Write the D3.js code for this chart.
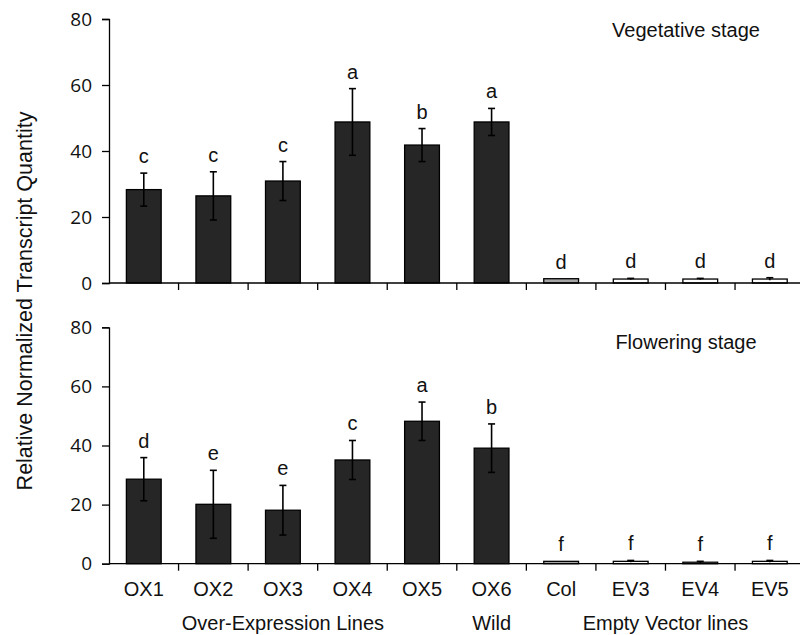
<!DOCTYPE html>
<html>
<head>
<meta charset="utf-8">
<script src="https://cdn.jsdelivr.net/npm/d3@7"></script>
<style>
  body { margin: 0; background: #fff; }
  svg { font-family: Arial, "Liberation Sans", sans-serif; }
</style>
</head>
<body>
<svg id="chart" width="800" height="635"></svg>
<script>
const categories = ['OX1', 'OX2', 'OX3', 'OX4', 'OX5', 'OX6', 'Col', 'EV3', 'EV4', 'EV5'];
const barKind = ['ox', 'ox', 'ox', 'ox', 'ox', 'ox', 'col', 'ev', 'ev', 'ev'];

const vegMean = [28.3, 26.4, 30.9, 48.8, 41.8, 48.8, 1.3, 1.2, 1.2, 1.2];
const vegErr = [5.0, 7.3, 5.9, 10.1, 5.0, 4.1, 0, 0.2, 0.2, 0.4];
const vegLetters = ['c', 'c', 'c', 'a', 'b', 'a', 'd', 'd', 'd', 'd'];

const flowMean = [28.6, 20.1, 18.1, 35.1, 48.2, 39.1, 0.8, 0.8, 0.5, 0.8];
const flowErr = [7.3, 11.5, 8.4, 6.6, 6.5, 8.2, 0, 0.3, 0.3, 0.3];
const flowLetters = ['d', 'e', 'e', 'c', 'a', 'b', 'f', 'f', 'f', 'f'];

const yTicks = [0, 20, 40, 60, 80];
const groups = [
  { label: 'Over-Expression Lines', from: 'OX1', to: 'OX5' },
  { label: 'Wild', from: 'OX6', to: 'OX6' },
  { label: 'Empty Vector lines', from: 'Col', to: 'EV5' },
];

const fills = { ox: '#262626', col: '#a6a6a6', ev: '#ffffff' };

const svg = d3.select('#chart');

const x = d3.scaleBand()
  .domain(categories)
  .range([109, 804.6])
  .paddingInner(0.5)
  .paddingOuter(0.25);

const panels = [
  { title: 'Vegetative stage', mean: vegMean, err: vegErr, letters: vegLetters, range: [283, 19], titleX: 686, titleY: 30 },
  { title: 'Flowering stage', mean: flowMean, err: flowErr, letters: flowLetters, range: [563.7, 327.3], titleX: 686, titleY: 342 },
];

panels.forEach(p => {
  const y = d3.scaleLinear().domain([0, 80]).range(p.range);
  const g = svg.append('g');
  const rows = categories.map((c, i) => ({ c, i, v: p.mean[i], e: p.err[i], l: p.letters[i], kind: barKind[i] }));

  // y axis
  const yAxis = g.append('g')
    .attr('transform', 'translate(109,0)')
    .call(d3.axisLeft(y).tickValues(yTicks).tickSize(7).tickPadding(10));
  yAxis.select('.domain').attr('stroke', '#000').attr('stroke-width', 1.3);
  yAxis.selectAll('.tick line').attr('stroke', '#000').attr('stroke-width', 1.3);
  yAxis.selectAll('.tick text')
    .attr('fill', '#111')
    .style('font-size', '19px')
    .style('font-family', '"Open Sans", Arial, sans-serif');

  // bars
  g.selectAll('rect.bar')
    .data(rows)
    .join('rect')
    .attr('class', 'bar')
    .attr('x', d => x(d.c))
    .attr('width', x.bandwidth())
    .attr('y', d => y(d.v))
    .attr('height', d => y(0) - y(d.v))
    .attr('fill', d => fills[d.kind])
    .attr('stroke', '#000')
    .attr('stroke-width', 1.3);

  // error bars
  const eb = g.selectAll('g.err')
    .data(rows.filter(d => d.e > 0))
    .join('g')
    .attr('class', 'err')
    .attr('stroke', '#000')
    .attr('stroke-width', 1.6);
  const cx = d => x(d.c) + x.bandwidth() / 2;
  eb.append('line')
    .attr('x1', cx).attr('x2', cx)
    .attr('y1', d => y(d.v - d.e)).attr('y2', d => y(d.v + d.e));
  eb.append('line')
    .attr('x1', d => cx(d) - 3.5).attr('x2', d => cx(d) + 3.5)
    .attr('y1', d => y(d.v + d.e)).attr('y2', d => y(d.v + d.e));
  eb.filter(d => d.kind === 'ox').append('line')
    .attr('x1', d => cx(d) - 3.5).attr('x2', d => cx(d) + 3.5)
    .attr('y1', d => y(d.v - d.e)).attr('y2', d => y(d.v - d.e));

  // x axis (ticks between categories)
  const base = y(0);
  g.append('line')
    .attr('x1', 109).attr('x2', 805)
    .attr('y1', base).attr('y2', base)
    .attr('stroke', '#000').attr('stroke-width', 1.3);
  g.selectAll('line.xtick')
    .data(categories)
    .join('line')
    .attr('class', 'xtick')
    .attr('x1', d => x(d) + x.bandwidth() * 1.5)
    .attr('x2', d => x(d) + x.bandwidth() * 1.5)
    .attr('y1', base).attr('y2', base + 7)
    .attr('stroke', '#000').attr('stroke-width', 1.3);

  // significance letters
  g.selectAll('text.letter')
    .data(rows)
    .join('text')
    .attr('class', 'letter')
    .attr('x', cx)
    .attr('y', d => y(d.v + d.e) - 17)
    .attr('dy', '0.35em')
    .attr('text-anchor', 'middle')
    .style('font-size', '20px')
    .attr('fill', '#111')
    .text(d => d.l);

  g.append('text')
    .attr('x', p.titleX)
    .attr('y', p.titleY)
    .attr('dy', '0.35em')
    .attr('text-anchor', 'middle')
    .style('font-size', '20px')
    .attr('fill', '#111')
    .text(p.title);
});

// category labels
svg.selectAll('text.cat')
  .data(categories)
  .join('text')
  .attr('class', 'cat')
  .attr('x', d => x(d) + x.bandwidth() / 2)
  .attr('y', 589)
  .attr('dy', '0.35em')
  .attr('text-anchor', 'middle')
  .style('font-size', '20px')
  .attr('fill', '#111')
  .text(d => d);

svg.selectAll('text.group')
  .data(groups)
  .join('text')
  .attr('class', 'group')
  .attr('x', d => (x(d.from) + x(d.to) + x.bandwidth()) / 2)
  .attr('y', 623)
  .attr('dy', '0.35em')
  .attr('text-anchor', 'middle')
  .style('font-size', '20px')
  .attr('fill', '#111')
  .text(d => d.label);

svg.append('text')
  .attr('transform', 'translate(24,301) rotate(-90)')
  .attr('dy', '0.35em')
  .attr('text-anchor', 'middle')
  .style('font-size', '21.5px')
  .attr('fill', '#111')
  .text('Relative Normalized Transcript Quantity');
</script>
</body>
</html>
